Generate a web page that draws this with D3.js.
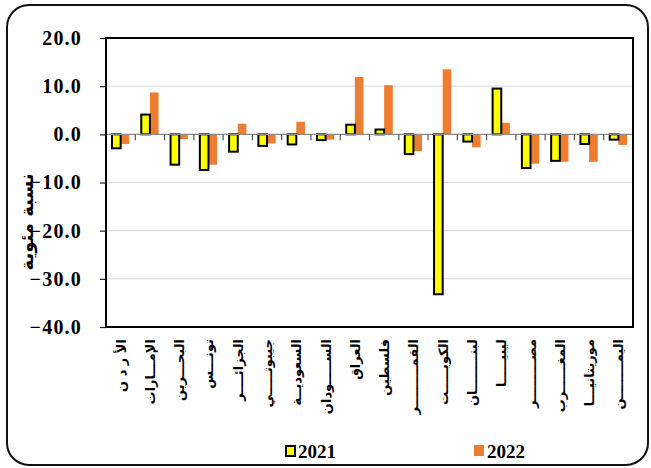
<!DOCTYPE html>
<html>
<head>
<meta charset="utf-8">
<script src="https://cdn.jsdelivr.net/npm/d3@7"></script>
<style>
  body { margin: 0; background: #fff; }
  svg { display: block; }
</style>
</head>
<body>
<svg id="chart" width="651" height="468"></svg>
<script>
// Country labels (kashida-stretched as in the printed table)
const categories = [
  "الأ ر د ن", "الإمـــارات", "البحـــرين", "تونـــس", "الجزائــــر", "جيبوتـــــي",
  "السعوديــة", "الســـــودان", "العراق", "فلسطين", "القمـــــــــر", "الكويـــــت",
  "لبنــــــــان", "ليبيـــــا", "مصـــــــــر", "المغــــــرب", "موريتانيـــا", "اليمــــــــن"
];
const series = ["2021", "2022"];
const values2021 = [-2.9, 4.1, -6.3, -7.4, -3.6, -2.4, -2.1, -1.2, 2.0, 1.0, -4.1, -33.2, -1.5, 9.5, -7.0, -5.5, -2.0, -1.1];
const values2022 = [-2.0, 8.7, -1.0, -6.3, 2.2, -1.9, 2.6, -1.1, 11.9, 10.2, -3.5, 13.5, -2.7, 2.4, -6.1, -5.7, -5.7, -2.2];
const yTicks = [20, 10, 0, -10, -20, -30, -40];
const yTitle = "نسبة مئوية";

const svg = d3.select("#chart");
const plot = { left: 106, right: 633, top: 38, bottom: 327 };

// Outer rounded frame
svg.append("rect")
  .attr("x", 7).attr("y", 5)
  .attr("width", 641).attr("height", 460)
  .attr("rx", 22).attr("ry", 22)
  .attr("fill", "#fff").attr("stroke", "#111").attr("stroke-width", 2);

const x0 = d3.scaleBand().domain(categories).range([plot.left, plot.right]).padding(0);
const bw = x0.bandwidth();
const gap = bw * 0.41;
const x1 = d3.scaleBand().domain(series).range([gap / 2, bw - gap / 2]).padding(0);
const y = d3.scaleLinear().domain([-40, 20]).range([plot.bottom, plot.top]);

// Horizontal gridlines
svg.append("g")
  .selectAll("line")
  .data(yTicks.filter(t => t !== 0))
  .join("line")
  .attr("x1", plot.left).attr("x2", plot.right)
  .attr("y1", d => y(d)).attr("y2", d => y(d))
  .attr("stroke", "#d9d9d9").attr("stroke-width", 1);

// Y axis (ticks outside, bold serif labels)
const yAxis = svg.append("g")
  .attr("transform", `translate(${plot.left},0)`)
  .call(d3.axisLeft(y).tickValues(yTicks).tickSize(6).tickPadding(18).tickFormat(d3.format(".1f")));
yAxis.select(".domain").remove();
yAxis.selectAll(".tick line").attr("stroke", "#222").attr("stroke-width", 1.2);
yAxis.selectAll(".tick text")
  .attr("font-family", "'Liberation Serif', 'Times New Roman', serif")
  .attr("font-weight", "bold")
  .attr("font-size", 20)
  .attr("letter-spacing", 1.2)
  .attr("fill", "#000");

// Bars
const rows = categories.map((c, i) => ({ c, v: [values2021[i], values2022[i]] }));
const groups = svg.append("g")
  .selectAll("g")
  .data(rows)
  .join("g")
  .attr("transform", d => `translate(${x0(d.c)},0)`);

groups.append("rect")
  .attr("x", x1("2022"))
  .attr("width", x1.bandwidth())
  .attr("y", d => y(Math.max(0, d.v[1])))
  .attr("height", d => Math.abs(y(d.v[1]) - y(0)))
  .attr("fill", "#ED7D31");

groups.append("rect")
  .attr("x", x1("2021"))
  .attr("width", x1.bandwidth())
  .attr("y", d => y(Math.max(0, d.v[0])))
  .attr("height", d => Math.abs(y(d.v[0]) - y(0)))
  .attr("fill", "#FFFF00")
  .attr("stroke", "#000")
  .attr("stroke-width", 2);

// Zero baseline with category separators
svg.append("line")
  .attr("x1", plot.left).attr("x2", plot.right)
  .attr("y1", y(0)).attr("y2", y(0))
  .attr("stroke", "#8c8c8c").attr("stroke-width", 1.2);
svg.append("g")
  .selectAll("line")
  .data(categories.slice(1))
  .join("line")
  .attr("x1", d => x0(d)).attr("x2", d => x0(d))
  .attr("y1", y(0)).attr("y2", y(0) + 6)
  .attr("stroke", "#555").attr("stroke-width", 1.2);

// Plot border
svg.append("rect")
  .attr("x", plot.left).attr("y", plot.top)
  .attr("width", plot.right - plot.left).attr("height", plot.bottom - plot.top)
  .attr("fill", "none").attr("stroke", "#000").attr("stroke-width", 2);

// Category labels, rotated to run down from the axis
svg.append("g")
  .selectAll("text")
  .data(categories)
  .join("text")
  .attr("transform", d => `translate(${x0(d) + bw / 2 + 5},${plot.bottom + 12}) rotate(-90)`)
  .attr("direction", "rtl")
  .attr("text-anchor", "start")
  .attr("font-family", "'DejaVu Sans', 'Liberation Serif', serif")
  .attr("font-weight", "bold")
  .attr("font-size", 13)
  .attr("fill", "#000")
  .text(d => d);

// Y axis title
svg.append("text")
  .attr("transform", `translate(33,222) rotate(-90)`)
  .attr("text-anchor", "middle")
  .attr("font-family", "'DejaVu Sans', 'Liberation Serif', serif")
  .attr("font-weight", "bold")
  .attr("font-size", 18)
  .attr("fill", "#000")
  .text(yTitle);

// Legend
const legend = [
  { key: "2021", fill: "#FFFF00", stroke: "#000", x: 285 },
  { key: "2022", fill: "#ED7D31", stroke: "none", x: 474 }
];
const lg = svg.append("g").selectAll("g").data(legend).join("g")
  .attr("transform", d => `translate(${d.x},445)`);
lg.append("rect")
  .attr("x", d => d.stroke === "none" ? 0 : 1).attr("y", d => d.stroke === "none" ? 0 : 1)
  .attr("width", d => d.stroke === "none" ? 10 : 9).attr("height", d => d.stroke === "none" ? 11 : 10)
  .attr("fill", d => d.fill).attr("stroke", d => d.stroke).attr("stroke-width", 2);
lg.append("text")
  .attr("x", 13).attr("y", 13)
  .attr("font-family", "'Liberation Serif', 'Times New Roman', serif")
  .attr("font-weight", "bold")
  .attr("font-size", 19)
  .attr("fill", "#000")
  .text(d => d.key);
</script>
</body>
</html>
